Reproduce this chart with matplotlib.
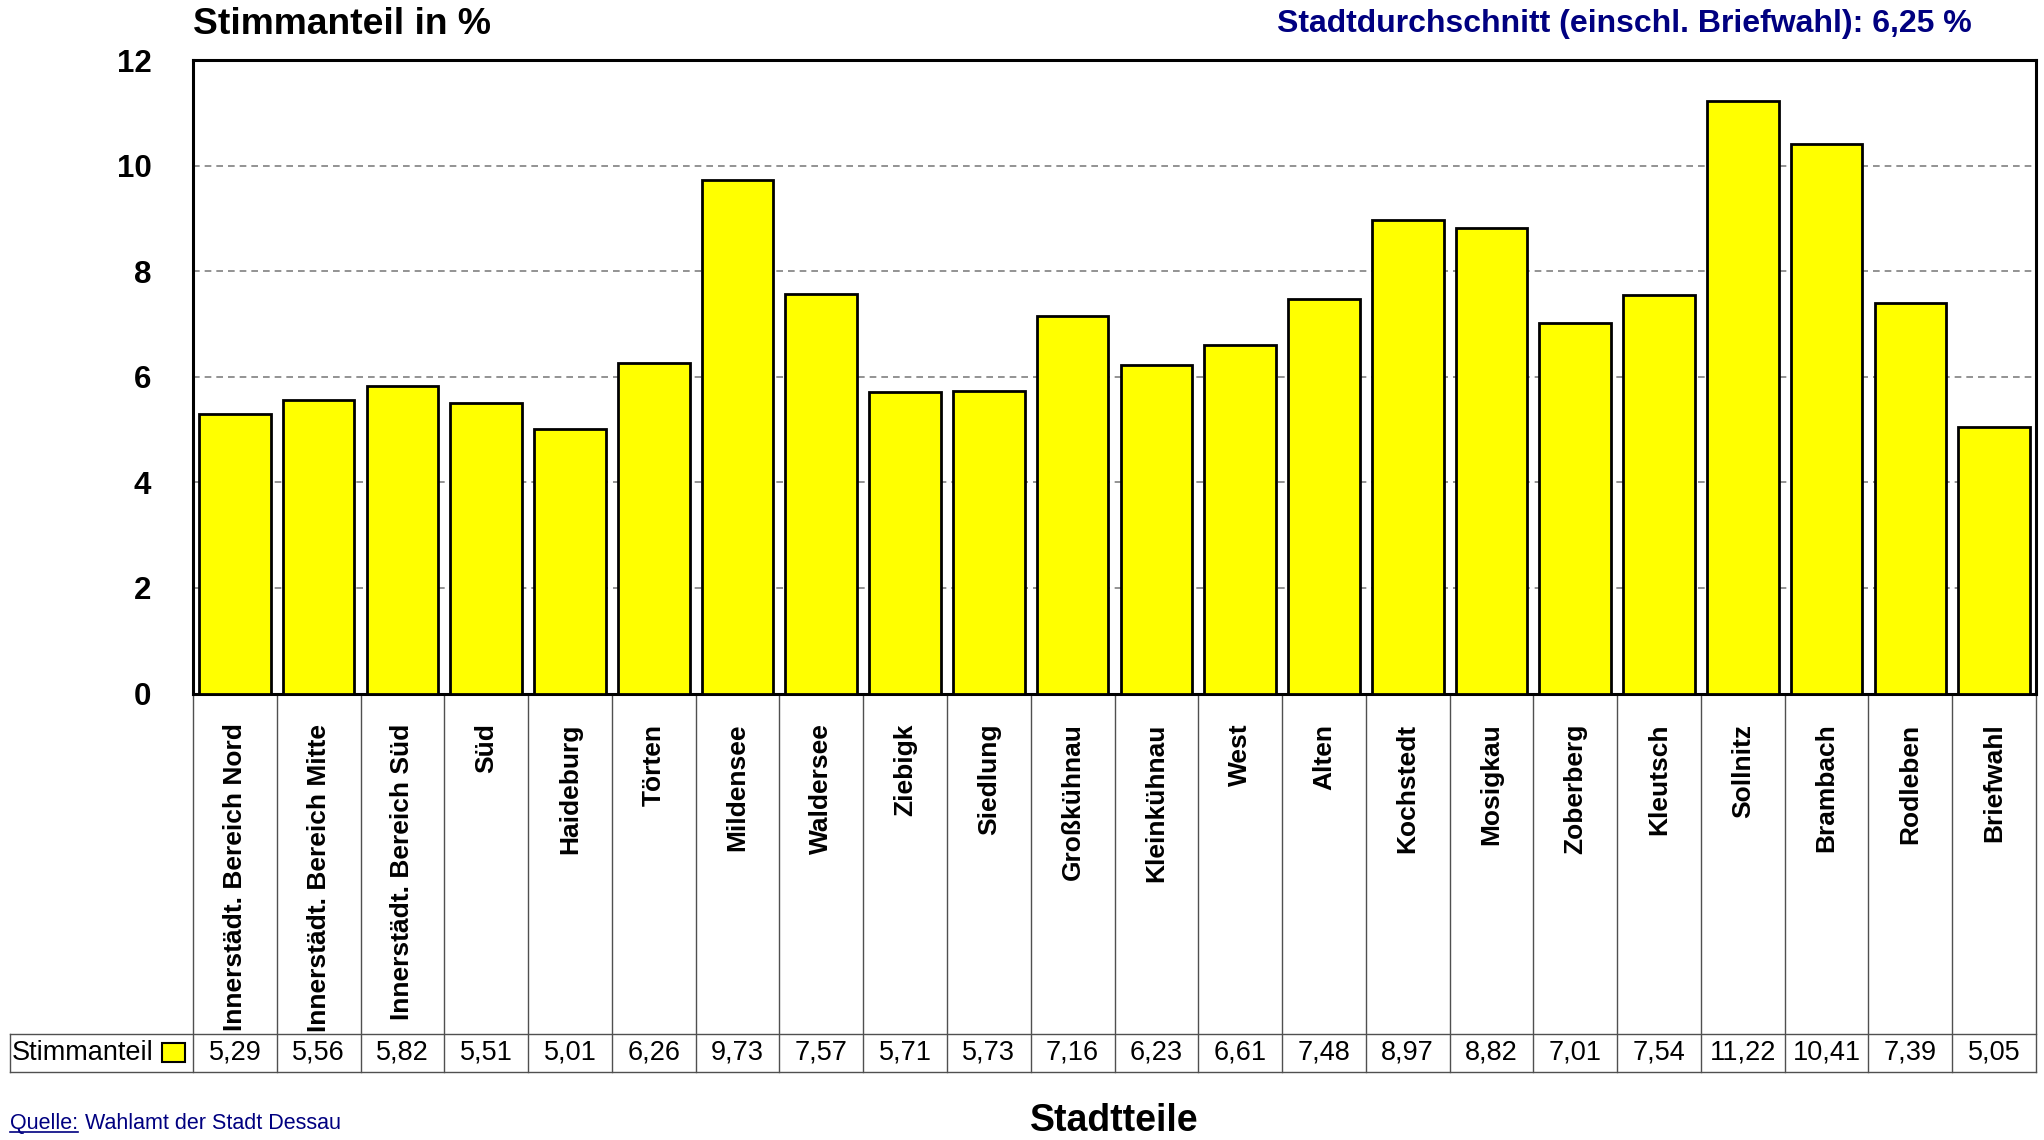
import matplotlib
matplotlib.use("Agg")
import matplotlib.pyplot as plt
from matplotlib.lines import Line2D
from matplotlib.patches import Rectangle
import matplotlib.transforms as mtransforms

plt.rcParams['font.family'] = ['Liberation Sans', 'DejaVu Sans']

# data
districts = ["Innerstädt. Bereich Nord", "Innerstädt. Bereich Mitte", "Innerstädt. Bereich Süd",
             "Süd", "Haideburg", "Törten", "Mildensee", "Waldersee", "Ziebigk", "Siedlung",
             "Großkühnau", "Kleinkühnau", "West", "Alten", "Kochstedt", "Mosigkau",
             "Zoberberg", "Kleutsch", "Sollnitz", "Brambach", "Rodleben", "Briefwahl"]
share = [5.29, 5.56, 5.82, 5.51, 5.01, 6.26, 9.73, 7.57, 5.71, 5.73, 7.16,
         6.23, 6.61, 7.48, 8.97, 8.82, 7.01, 7.54, 11.22, 10.41, 7.39, 5.05]
yticks = [0, 2, 4, 6, 8, 10, 12]
city_avg = "6,25"

W, H = 2044, 1140
fig = plt.figure(figsize=(W / 100, H / 100), dpi=100)

# axes box in pixels
left, right, top, bottom = 193, 2036, 60, 693.5
ax = fig.add_axes([left / W, 1 - bottom / H, (right - left) / W, (bottom - top) / H])

n = len(districts)
x = list(range(n))
ax.bar(x, share, width=0.855, color="#FFFF00", edgecolor="black", linewidth=2.0, zorder=3)

ax.set_xlim(-0.5, n - 0.5)
ax.set_ylim(0, 12)
ax.set_yticks(yticks)
ax.set_yticklabels([str(t) for t in yticks], fontsize=22.5, fontweight="bold")
ax.tick_params(axis="y", length=0, pad=30)
ax.set_xticks([])
for t in [2, 4, 6, 8, 10]:
    ax.axhline(t, color="#808080", linestyle=(0, (4, 3)), linewidth=1.2, zorder=1)
for s in ax.spines.values():
    s.set_linewidth(2.2)
    s.set_color("black")

# table below the plot
trans = mtransforms.blended_transform_factory(ax.transData, ax.transAxes)
ax_h = bottom - top
ax_w = right - left
row1_bot = -(1033.8 - bottom) / ax_h
row2_bot = -(1071.6 - bottom) / ax_h
tbl_left = (10 - left) / ax_w
grid_col = "#505050"

for i in range(n + 1):
    ax.add_line(Line2D([i - 0.5, i - 0.5], [0, row2_bot], transform=trans,
                       color=grid_col, linewidth=1.0, clip_on=False))
for yy in [row1_bot, row2_bot]:
    ax.add_line(Line2D([tbl_left, 1], [yy, yy], transform=ax.transAxes,
                       color=grid_col, linewidth=1.0, clip_on=False))
ax.add_line(Line2D([tbl_left, tbl_left], [row1_bot, row2_bot], transform=ax.transAxes,
                   color=grid_col, linewidth=1.0, clip_on=False))

label_top = -(723.5 - bottom) / ax_h
row2_mid = (row1_bot + row2_bot) / 2
for i, (name, v) in enumerate(zip(districts, share)):
    ax.text(i, label_top, name, transform=trans, rotation=90, ha="center", va="top",
            fontsize=19, fontweight="bold")
    ax.text(i, row2_mid, f"{v:.2f}".replace(".", ","), transform=trans,
            ha="center", va="center", fontsize=19.5)

ax.text((12 - left) / ax_w, row2_mid, "Stimmanteil", transform=ax.transAxes,
        ha="left", va="center", fontsize=19.5)
ax.add_patch(Rectangle(((162 - left) / ax_w, -(1062 - bottom) / ax_h),
                       23 / ax_w, 19 / ax_h, transform=ax.transAxes,
                       facecolor="#FFFF00", edgecolor="black", linewidth=1.5, clip_on=False))

# titles
fig.text(left / W, 1 - 24 / H, "Stimmanteil in %", ha="left", va="center",
         fontsize=26.8, fontweight="bold")
fig.text(1972 / W, 1 - 24 / H,
         f"Stadtdurchschnitt (einschl. Briefwahl): {city_avg} %",
         ha="right", va="center", fontsize=23, fontweight="bold", color="#000080")
fig.text((left + right) / 2 / W, 1 - 1121 / H, "Stadtteile", ha="center", va="center",
         fontsize=27, fontweight="bold")

# source line
base_y = 1 - 1129 / H
q = fig.text(10 / W, base_y, "Quelle:", ha="left", va="baseline", fontsize=15.5, color="#000080")
fig.canvas.draw()
bb = q.get_window_extent().transformed(fig.transFigure.inverted())
fig.add_artist(Line2D([bb.x0, bb.x1], [base_y - 3 / H, base_y - 3 / H],
                      transform=fig.transFigure, color="#000080", linewidth=1.2))
fig.text(bb.x1 + 7 / W, base_y, "Wahlamt der Stadt Dessau", ha="left", va="baseline",
         fontsize=15.5, color="#000080")

fig.savefig("out.png", dpi=100)
